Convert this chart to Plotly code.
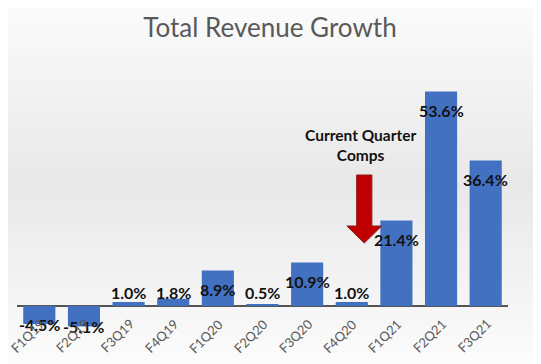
import plotly.graph_objects as go

quarters = ["F1Q19", "F2Q19", "F3Q19", "F4Q19", "F1Q20", "F2Q20",
            "F3Q20", "F4Q20", "F1Q21", "F2Q21", "F3Q21"]
growth = [-4.5, -5.1, 1.0, 1.8, 8.9, 0.5, 10.9, 1.0, 21.4, 53.6, 36.4]
value_labels = ["-4.5%", "-5.1%", "1.0%", "1.8%", "8.9%", "0.5%",
                "10.9%", "1.0%", "21.4%", "53.6%", "36.4%"]
title_text = "Total Revenue Growth"
callout_text = "Current Quarter<br>Comps"
callout_quarter = "F4Q20"

# page body has an 8px default margin; size figure to the visible area
OFF = 8
W, H = 541 - OFF, 364 - OFF
ML, MR, MT, MB = 17 - OFF, 33, 66 - OFF, 26
PH = H - MT - MB
x_idx = list(range(len(quarters)))

fig = go.Figure()
fig.add_trace(go.Bar(
    x=x_idx, y=growth, width=0.72,
    marker=dict(color="#4271c2", line=dict(width=0)),
    hoverinfo="skip",
))

# background gradient bands over whole figure
shapes = []
N = 70
y_bot = -(MB + 10) / PH
y_top = 1 + (MT + 10) / PH
def shade(t):
    # t: 0 top -> 1 bottom
    if t < 0.5:
        v = 252 - (252 - 232) * (t / 0.5)
    else:
        v = 232 + (253 - 232) * ((t - 0.5) / 0.5)
    v = int(round(v))
    return f"rgb({v},{v},{v})"
for i in range(N):
    y1 = y_top - (y_top - y_bot) * i / N
    y0 = y_top - (y_top - y_bot) * (i + 1) / N
    shapes.append(dict(type="rect", xref="paper", yref="paper",
                       x0=-0.2, x1=1.2, y0=y0, y1=y1 + 0.002,
                       fillcolor=shade((i + 0.5) / N), line=dict(width=0),
                       layer="below"))

# callout arrow above F4Q20 (offset to the right of the bar centre)
ci = quarters.index(callout_quarter)
ax = ci + 0.28
arrow_path = (f"M {ax-0.17},32.75 L {ax+0.17},32.75 L {ax+0.17},20 "
              f"L {ax+0.39},20 L {ax},15.75 L {ax-0.39},20 L {ax-0.17},20 Z")
shapes.append(dict(type="path", xref="x", yref="y", path=arrow_path,
                   fillcolor="#c00000", line=dict(color="#8a1a1a", width=1)))

annotations = []
for i, (v, lab) in enumerate(zip(growth, value_labels)):
    if v >= 0:
        ly = max(v - 4.7, 3.5)
    else:
        ly = v
    annotations.append(dict(x=i, y=ly, text=f"<b>{lab}</b>", showarrow=False,
                            xanchor="center", yanchor="middle",
                            font=dict(family="Lato", size=16, color="#111111")))
    annotations.append(dict(x=i, y=-7.4, text=quarters[i], showarrow=False,
                            textangle=-45, xshift=-12,
                            xanchor="center", yanchor="middle",
                            font=dict(family="Lato", size=13, color="#595959")))

annotations.append(dict(x=ci + 0.2, y=40.3, text=f"<b>{callout_text}</b>",
                        showarrow=False, xanchor="center", yanchor="middle",
                        font=dict(family="Lato", size=15.5, color="#111111")))

fig.update_layout(
    width=W, height=H,
    margin=dict(l=ML, r=MR, t=MT, b=MB),
    paper_bgcolor="#fafafa", plot_bgcolor="rgba(0,0,0,0)",
    showlegend=False,
    title=dict(text=title_text, x=(270 - OFF) / W, xanchor="center",
               y=1 - (28 - OFF) / H,
               yanchor="middle", xref="container", yref="container",
               font=dict(family="Lato", size=26, color="#595959")),
    xaxis=dict(range=[-0.5, len(quarters) - 0.5], showticklabels=False,
               showgrid=False, zeroline=False, showline=False, ticks=""),
    yaxis=dict(range=[-8, 60], showticklabels=False, showgrid=False,
               zeroline=True, zerolinecolor="#555555", zerolinewidth=1.5,
               showline=False, ticks=""),
    shapes=shapes, annotations=annotations, bargap=0.28,
)

fig.write_html("out.html")
